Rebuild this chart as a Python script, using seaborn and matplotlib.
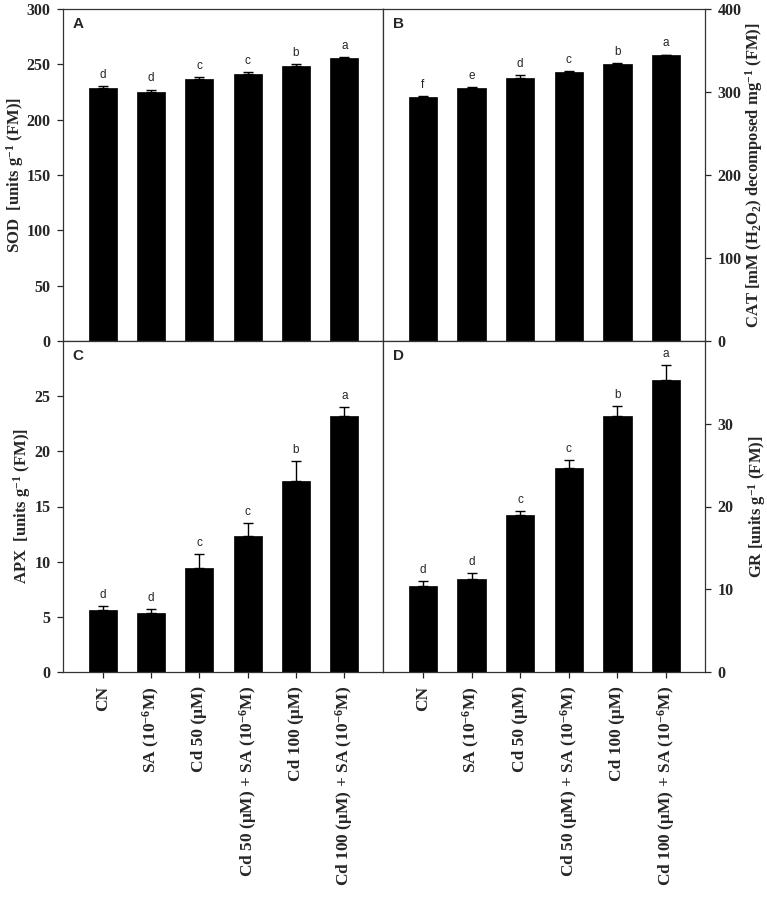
import numpy as np
import pandas as pd
import matplotlib
matplotlib.use("Agg")
import matplotlib.pyplot as plt
import seaborn as sns

# ---------------- data ----------------
treatments = ["CN", "SA (10$^{-6}$M)", "Cd 50 (\u03bcM)",
              "Cd 50 (\u03bcM) + SA (10$^{-6}$M)", "Cd 100 (\u03bcM)",
              "Cd 100 (\u03bcM) + SA (10$^{-6}$M)"]

sod = [228.5, 225.2, 236.3, 241.5, 248.4, 255.7]
sod_err = [2.0, 2.0, 2.2, 1.5, 2.0, 0.6]
sod_sig = ["d", "d", "c", "c", "b", "a"]

cat = [293.8, 304.7, 316.8, 323.6, 333.7, 344.1]
cat_err = [1.0, 1.5, 3.6, 1.5, 1.0, 1.0]
cat_sig = ["f", "e", "d", "c", "b", "a"]

apx = [5.61, 5.34, 9.47, 12.34, 17.28, 23.17]
apx_err = [0.36, 0.36, 1.24, 1.14, 1.8, 0.85]
apx_sig = ["d", "d", "c", "c", "b", "a"]

gr = [10.4, 11.2, 19.0, 24.7, 30.9, 35.3]
gr_err = [0.64, 0.8, 0.4, 0.9, 1.2, 1.8]
gr_sig = ["d", "d", "c", "c", "b", "a"]

# ---------------- style ----------------
sns.set_style("ticks")
plt.rcParams["font.family"] = ["Liberation Serif", "DejaVu Serif"]
plt.rcParams["font.weight"] = "bold"
plt.rcParams["axes.labelweight"] = "bold"
plt.rcParams["mathtext.default"] = "regular"
plt.rcParams["axes.linewidth"] = 0.9
plt.rcParams["axes.edgecolor"] = "#333333"

W, H = 767, 902
fig = plt.figure(figsize=(W / 100, H / 100), dpi=100)


def axrect(l, t, r, b):
    return [l / W, 1 - b / H, (r - l) / W, (b - t) / H]


def panel(ax, vals, errs, sig, ylim, yticks, ylabel, letter, side, show_x, labelpad):
    df = pd.DataFrame({"Treatment": treatments, "Value": vals})
    sns.barplot(data=df, x="Treatment", y="Value", color="black", width=0.58,
                saturation=1, errorbar=None, edgecolor="black", linewidth=0.5, ax=ax)
    x = np.arange(len(vals))
    ax.errorbar(x, vals, yerr=[np.zeros(len(vals)), errs], fmt="none",
                ecolor="black", elinewidth=1.0, capsize=3.6, capthick=1.0)
    for xi, v, e, s in zip(x, vals, errs, sig):
        ax.annotate(s, (xi, v + e), xytext=(0, 8), textcoords="offset points",
                    ha="center", va="center", fontsize=8.5,
                    family="Liberation Sans", fontweight="normal")
    ax.set_xlim(-0.82, 5.8)
    ax.set_ylim(*ylim)
    ax.set_yticks(yticks)
    ax.set_yticklabels([str(t) for t in yticks])
    ax.set_ylabel(ylabel, fontsize=12, labelpad=labelpad)
    ax.set_xlabel("")
    ax.tick_params(axis="y", labelsize=11.5, length=4, width=0.9,
                   direction="out", pad=5)
    if side == "right":
        ax.yaxis.tick_right()
        ax.yaxis.set_label_position("right")
    if show_x:
        ax.set_xticks(x)
        ax.set_xticklabels(treatments, rotation=90, fontsize=12.5)
        ax.tick_params(axis="x", length=4, width=0.9, direction="out", pad=6)
    else:
        ax.set_xticks([])
    for sp in ax.spines.values():
        sp.set_visible(True)
    ax.text(0.03, 0.955, letter, transform=ax.transAxes, ha="left", va="center",
            fontsize=11, family="Liberation Sans", fontweight="bold")


axA = fig.add_axes(axrect(63, 9, 383, 341))
axB = fig.add_axes(axrect(383, 9, 705, 341))
axC = fig.add_axes(axrect(63, 341, 383, 672))
axD = fig.add_axes(axrect(383, 341, 705, 672))

panel(axA, sod, sod_err, sod_sig, (0, 300), [0, 50, 100, 150, 200, 250, 300],
      "SOD  [units g$^{-1}$ (FM)]", "A", "left", False, 0)
panel(axB, cat, cat_err, cat_sig, (0, 400), [0, 100, 200, 300, 400],
      "CAT [mM (H$_2$O$_2$) decomposed mg$^{-1}$ (FM)]", "B", "right", False, 1)
panel(axC, apx, apx_err, apx_sig, (0, 30), [0, 5, 10, 15, 20, 25],
      "APX  [units g$^{-1}$ (FM)]", "C", "left", True, 1)
panel(axD, gr, gr_err, gr_sig, (0, 40), [0, 10, 20, 30],
      "GR [units g$^{-1}$ (FM)]", "D", "right", True, 9)

fig.savefig("out.png", dpi=100)
